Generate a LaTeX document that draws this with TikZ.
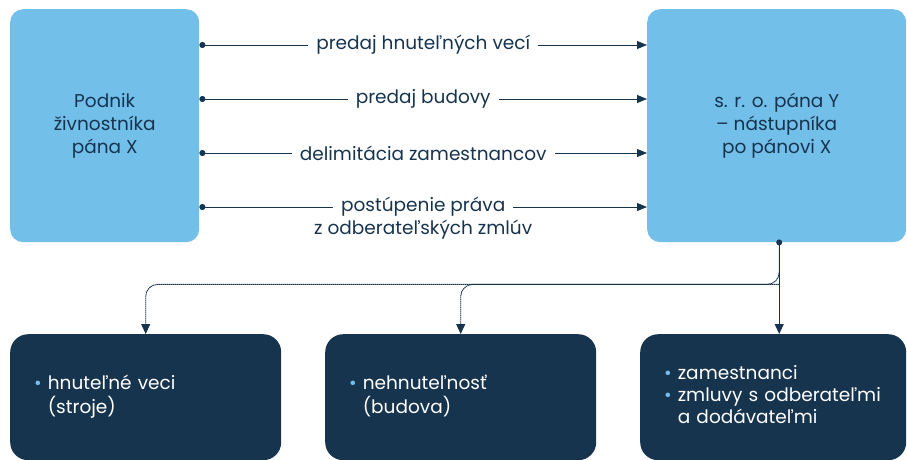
\documentclass[tikz,border=0pt]{standalone}
\usepackage{fontspec}
\setmainfont{Poppins}
\usetikzlibrary{arrows.meta,positioning}
\definecolor{skyb}{HTML}{72BFEA}
\definecolor{navy}{HTML}{17344F}
\newcommand{\bul}{\textcolor{skyb}{\textbullet}}

\begin{document}
\begin{tikzpicture}[x=1pt,y=-1pt,font=\fontsize{18.5}{23}\selectfont,
    topbox/.style={fill=skyb,rounded corners=13pt,text=navy,align=center,
      anchor=north west,minimum height=233pt},
    botbox/.style={fill=navy,rounded corners=18pt,text=white,anchor=north west,
      minimum width=271pt,minimum height=126pt,inner xsep=24pt,text width=223pt,align=left},
    lbl/.style={fill=white,text=navy,inner xsep=8pt,inner ysep=1pt},
    flow/.style={navy,thick,{Circle[length=6pt]}-{Triangle[length=10pt,width=8pt]}},
    tree/.style={navy,line width=0.9pt,dash pattern=on 1.5pt off 0.5pt,-{Triangle[length=10pt,width=9pt]}}]
  \useasboundingbox (0,0) rectangle (907,459);
  \renewcommand{\arraystretch}{0.96}
  % upper boxes
  \node[topbox,minimum width=189pt] (pX) at (10,9) {Podnik\\živnostníka\\pána X};
  \node[topbox,minimum width=259pt] (pY) at (647,9) {s. r. o. pána Y\\– nástupníka\\po pánovi X};
  % lower boxes
  \node[botbox] (b1) at (10,334) {\begin{tabular}{@{}l@{\hspace{6pt}}l@{}}\bul & hnuteľné veci\\ & (stroje)\end{tabular}};
  \node[botbox] (b2) at (325,334) {\begin{tabular}{@{}l@{\hspace{6pt}}l@{}}\bul & nehnuteľnosť\\ & (budova)\end{tabular}};
  \node[botbox,minimum width=266pt,text width=218pt] (b3) at (640,334) {\begin{tabular}{@{}l@{\hspace{6pt}}l@{}}\bul & zamestnanci\\ \bul & zmluvy s odberateľmi\\ & a dodávateľmi\end{tabular}};
  % transfers
  \foreach \i/\y in {1/45,2/99,3/153,4/207}
    \coordinate (s\i) at (199,\y);
  \draw[flow] (pX.east |- s1) -- node[lbl] (l1) {predaj hnuteľných vecí} (pY.west |- s1);
  \draw[flow] (pX.east |- s2) -- node[lbl] (l2) {predaj budovy} (pY.west |- s2);
  \draw[flow] (pX.east |- s3) -- node[lbl] (l3) {delimitácia zamestnancov} (pY.west |- s3);
  \draw[flow] (pX.east |- s4) -- node[lbl] (l4) {postúpenie práva} (pY.west |- s4);
  \node[text=navy,below=-2pt of l4] (l5) {z odberateľských zmlúv};
  % split below
  \coordinate (d) at ([xshift=2.5pt]pY.south);
  \fill[navy] (d) circle (3pt);
  \draw[tree] (d) -- (b3.north -| d);
  \draw[tree,rounded corners=12pt] (d) -- ++(0,42) coordinate (m) -| (b1.north);
  \draw[tree,rounded corners=12pt] (m) -| (b2.north);
\end{tikzpicture}
\end{document}
